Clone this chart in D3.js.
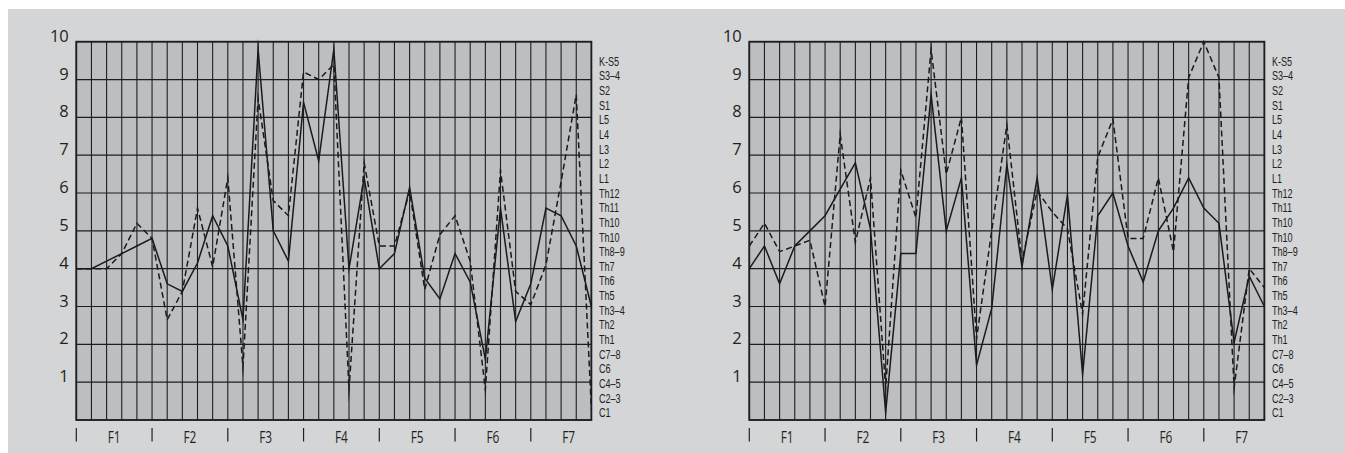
<!DOCTYPE html>
<html><head><meta charset="utf-8">
<script src="https://cdn.jsdelivr.net/npm/d3@7"></script>
<style>html,body{margin:0;padding:0;background:#fff;} svg{display:block;}</style>
</head><body><svg id="c" width="1345" height="453"></svg>
<script>
// ---- data ----
const groups = ["F1","F2","F3","F4","F5","F6","F7"];
const yTicks = [1,2,3,4,5,6,7,8,9,10];
const levels = ["K-S5","S3–4","S2","S1","L5","L4","L3","L2","L1","Th12","Th11","Th10","Th10","Th8–9","Th7","Th6","Th5","Th3–4","Th2","Th1","C7–8","C6","C4–5","C2–3","C1"];
const leftSolid  = [4.0,4.0,4.2,4.4,4.6,4.8,3.6,3.4,4.15,5.4,4.6,2.65,9.8,5.0,4.2,8.4,6.85,9.8,4.0,6.4,4.0,4.4,6.15,3.75,3.2,4.4,3.65,1.6,5.6,2.6,3.6,5.6,5.4,4.6,3.0];
const leftDashed = [4.0,4.0,4.0,4.4,5.2,4.8,2.65,3.4,5.6,4.05,6.4,1.4,8.5,5.8,5.4,9.2,9.0,9.4,0.8,6.8,4.6,4.6,6.05,3.45,4.9,5.4,4.2,0.8,6.6,3.4,3.05,4.1,6.3,8.6,0.3];
const rightSolid  = [4.0,4.6,3.6,4.6,5.0,5.4,6.1,6.8,5.05,0.2,4.4,4.4,8.6,5.0,6.4,1.45,2.95,6.75,4.05,6.4,3.45,5.95,1.2,5.4,6.0,4.6,3.65,5.0,5.6,6.4,5.6,5.2,2.05,3.8,3.0];
const rightDashed = [4.6,5.2,4.45,4.6,4.75,3.0,7.55,4.7,6.4,0.85,6.6,5.35,9.8,6.5,8.0,2.15,5.0,7.8,4.2,6.05,5.5,5.05,2.8,6.95,7.95,4.8,4.8,6.4,4.45,9.05,10.0,9.05,0.85,4.0,3.5];

// ---- layout ----
const svg = d3.select("#c");
const ink = "#231f20";
svg.append("rect").attr("x",8).attr("y",9).attr("width",1337).attr("height",444).attr("fill","#d4d5d7");

const nCols = 34;
const plotTop = 41.7, plotBottom = 420, plotW = 515.1;

function panel(x0, solid, dashed) {
  const g = svg.append("g");
  const x = d3.scaleLinear().domain([0, nCols]).range([x0, x0 + plotW]);
  const y = d3.scaleLinear().domain([0, 10]).range([plotBottom, plotTop]);
  const lv = d3.scalePoint().domain(d3.range(levels.length)).range([65.7, 417.3]);

  g.append("rect").attr("x", x(0)).attr("y", y(10)).attr("width", x(nCols) - x(0)).attr("height", y(0) - y(10)).attr("fill", "#bdbec1");

  g.selectAll("line.v").data(d3.range(nCols + 1)).join("line").attr("class","v")
    .attr("x1", d => x(d)).attr("x2", d => x(d)).attr("y1", y(10)).attr("y2", y(0))
    .attr("stroke", "#1e1e1e").attr("stroke-width", 1.1);
  g.selectAll("line.h").data(d3.range(0, 11)).join("line").attr("class","h")
    .attr("x1", x(0)).attr("x2", x(nCols)).attr("y1", d => y(d)).attr("y2", d => y(d))
    .attr("stroke", "#1e1e1e").attr("stroke-width", 1.2);
  g.append("rect").attr("x", x(0)).attr("y", y(10)).attr("width", x(nCols) - x(0)).attr("height", y(0) - y(10))
    .attr("fill", "none").attr("stroke", "#1e1e1e").attr("stroke-width", 1.8);

  g.selectAll("text.y").data(yTicks).join("text").attr("class","y")
    .attr("x", x(0) - 7.5).attr("y", d => y(d))
    .attr("text-anchor", "end").attr("font-family", "'Open Sans', sans-serif").attr("font-size", 16.5)
    .attr("fill", ink).text(d => d);

  g.selectAll("text.lv").data(levels).join("text").attr("class","lv")
    .attr("transform", (d, i) => `translate(${x(nCols) + 7.5},${lv(i)}) scale(0.7,1)`)
    .attr("font-family", "'Liberation Sans', Arial, sans-serif").attr("font-size", 13)
    .attr("fill", ink).text(d => d);

  g.selectAll("line.t").data(groups).join("line").attr("class","t")
    .attr("x1", (d, i) => x(i * 5)).attr("x2", (d, i) => x(i * 5))
    .attr("y1", 428).attr("y2", 441.5).attr("stroke", ink).attr("stroke-width", 1.2);
  g.selectAll("text.f").data(groups).join("text").attr("class","f")
    .attr("transform", (d, i) => `translate(${x(i * 5 + 2.5)},${442.5}) scale(0.72,1)`)
    .attr("text-anchor", "middle").attr("font-family", "'Open Sans', sans-serif").attr("font-size", 16.5)
    .attr("fill", ink).text(d => d);

  const line = d3.line().x((d, i) => x(i)).y(d => y(d));
  g.append("path").attr("d", line(dashed)).attr("fill", "none").attr("stroke", "#1a1a1a")
    .attr("stroke-width", 1.5).attr("stroke-dasharray", "6,3.5").attr("stroke-linejoin", "miter").attr("stroke-miterlimit", 20);
  g.append("path").attr("d", line(solid)).attr("fill", "none").attr("stroke", "#1a1a1a")
    .attr("stroke-width", 1.5).attr("stroke-linejoin", "miter").attr("stroke-miterlimit", 20);
}

panel(76.3, leftSolid, leftDashed);
panel(749.3, rightSolid, rightDashed);
</script>
</body></html>
